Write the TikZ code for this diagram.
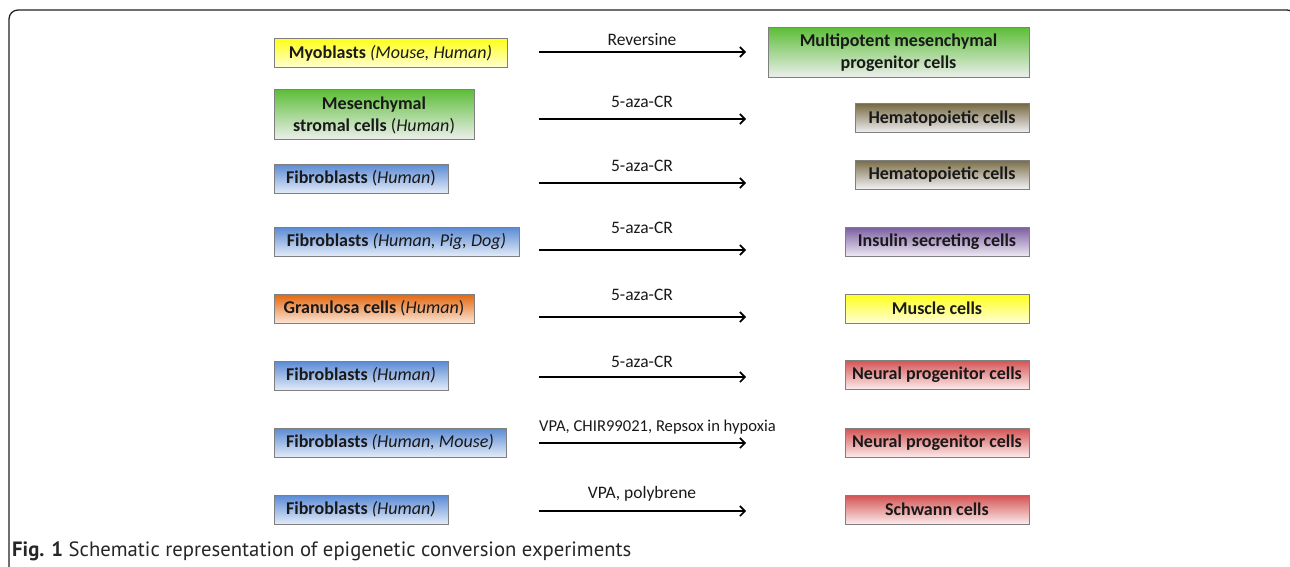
\documentclass[tikz,border=0pt]{standalone}
\usepackage{fontspec}
\setmainfont{Carlito}
\newfontfamily\capfont{PT Sans}
\usetikzlibrary{arrows.meta}
\definecolor{frameC}{HTML}{222222}
\definecolor{boxline}{HTML}{7F7F7F}
\definecolor{yT}{HTML}{FFFF1A}\definecolor{yM}{HTML}{FFFF80}\definecolor{yB}{HTML}{FFFFD6}
\definecolor{gT}{HTML}{5EBE3A}\definecolor{gM}{HTML}{B2DC98}\definecolor{gB}{HTML}{EEF0EE}
\definecolor{bT}{HTML}{5A8AD4}\definecolor{bM}{HTML}{A8C2EA}\definecolor{bB}{HTML}{E2EBF8}
\definecolor{oT}{HTML}{E4660C}\definecolor{oM}{HTML}{F2A670}\definecolor{oB}{HTML}{FBE4D4}
\definecolor{nT}{HTML}{786C46}\definecolor{nM}{HTML}{BDB6A4}\definecolor{nB}{HTML}{F3F1F5}
\definecolor{pT}{HTML}{7A5EA0}\definecolor{pM}{HTML}{B8A8D0}\definecolor{pB}{HTML}{EDE7F3}
\definecolor{rT}{HTML}{D45252}\definecolor{rM}{HTML}{EBA4A4}\definecolor{rB}{HTML}{FCEAEA}
\tikzset{
  cell/.style={draw=boxline, line width=1pt, inner sep=0pt, align=center,
    font=\fontsize{18}{22}\selectfont\bfseries, text=black!90},
  yel/.style={top color=yT, middle color=yM, bottom color=yB},
  grn/.style={top color=gT, middle color=gM, bottom color=gB},
  blu/.style={top color=bT, middle color=bM, bottom color=bB},
  org/.style={top color=oT, middle color=oM, bottom color=oB},
  brn/.style={top color=nT, middle color=nM, bottom color=nB},
  pur/.style={top color=pT, middle color=pM, bottom color=pB},
  red/.style={top color=rT, middle color=rM, bottom color=rB},
  arr/.style={line width=1.6pt, -{Straight Barb[length=5pt,width=10pt,line width=1.6pt]}},
  lab/.style={font=\fontsize{17.5}{20}\selectfont, text=black!90, inner sep=0pt},
}
\begin{document}
\begin{tikzpicture}[x=1pt,y=-1pt]
\useasboundingbox (0,0) rectangle (1290,567);
% frame
\draw[frameC, line width=1.3pt, rounded corners=9pt] (9,570) -- (9,10) -- (1296,10) -- (1296,570);
% left boxes
\node[cell,yel,minimum width=233pt,minimum height=29pt] (l1) at (390.5,53.5) {Myoblasts \textit{\mdseries(Mouse, Human)}};
\node[cell,grn,minimum width=200pt,minimum height=50pt] (l2) at (374,115) {Mesenchymal\\stromal cells {\mdseries(\textit{Human})}};
\node[cell,blu,minimum width=174pt,minimum height=29pt] (l3) at (361,178.5) {Fibroblasts {\mdseries(\textit{Human})}};
\node[cell,blu,minimum width=245pt,minimum height=29pt] (l4) at (396.5,241.5) {Fibroblasts \textit{\mdseries(Human, Pig, Dog)}};
\node[cell,org,minimum width=200pt,minimum height=29pt] (l5) at (374,308.5) {Granulosa cells {\mdseries(\textit{Human})}};
\node[cell,blu,minimum width=174pt,minimum height=29pt] (l6) at (361,375.5) {Fibroblasts \textit{\mdseries(Human)}};
\node[cell,blu,minimum width=232pt,minimum height=29pt] (l7) at (390,442.5) {Fibroblasts \textit{\mdseries(Human, Mouse)}};
\node[cell,blu,minimum width=174pt,minimum height=29pt] (l8) at (361,509.5) {Fibroblasts \textit{\mdseries(Human)}};
% right boxes
\node[cell,grn,minimum width=261pt,minimum height=50pt] (r1) at (898.5,53) {Multipotent mesenchymal\\progenitor cells};
\node[cell,brn,minimum width=174pt,minimum height=29pt] (r2) at (942,118.5) {Hematopoietic cells};
\node[cell,brn,minimum width=174pt,minimum height=29pt] (r3) at (942,174.5) {Hematopoietic cells};
\node[cell,pur,minimum width=184pt,minimum height=29pt] (r4) at (937,241.5) {Insulin secreting cells};
\node[cell,yel,minimum width=184pt,minimum height=29pt] (r5) at (937,308.5) {Muscle cells};
\node[cell,red,minimum width=184pt,minimum height=29pt] (r6) at (937,374.5) {Neural progenitor cells};
\node[cell,red,minimum width=184pt,minimum height=29pt] (r7) at (937,442.5) {Neural progenitor cells};
\node[cell,red,minimum width=184pt,minimum height=29pt] (r8) at (937,509.5) {Schwann cells};
% arrows
\foreach \i/\y in {1/52,2/119,3/183,4/250,5/317,6/377,7/443,8/511}{
  \coordinate (s\i) at (539,\y);
  \coordinate (e\i) at (746,\y);
}
\draw[arr] (s1) -- (e1);
\draw[arr] (s2) -- (e2);
\draw[arr] (s3) -- (e3);
\draw[arr] (s4) -- (e4);
\draw[arr] (s5) -- (e5);
\draw[arr] (s6) -- (e6);
\draw[arr] (s7) -- (e7);
\draw[arr] (s8) -- (e8);
\node[lab] (t1) at (642,40) {Reversine};
\node[lab] (t2) at (642,102) {5-aza-CR};
\node[lab] (t3) at (642,166) {5-aza-CR};
\node[lab] (t4) at (642,228) {5-aza-CR};
\node[lab] (t5) at (642,295) {5-aza-CR};
\node[lab] (t6) at (642,362) {5-aza-CR};
\node[lab, font=\fontsize{16.6}{20}\selectfont] (t7) at (657.5,427) {VPA, CHIR99021, Repsox in hypoxia};
\node[lab] (t8) at (642,494) {VPA, polybrene};
% caption
\node[anchor=west, inner sep=0pt, font=\capfont\fontsize{20.7}{24}\selectfont, text=black!85] (cap) at (12,551) {\textbf{Fig. 1} Schematic representation of epigenetic conversion experiments};
\end{tikzpicture}
\end{document}
